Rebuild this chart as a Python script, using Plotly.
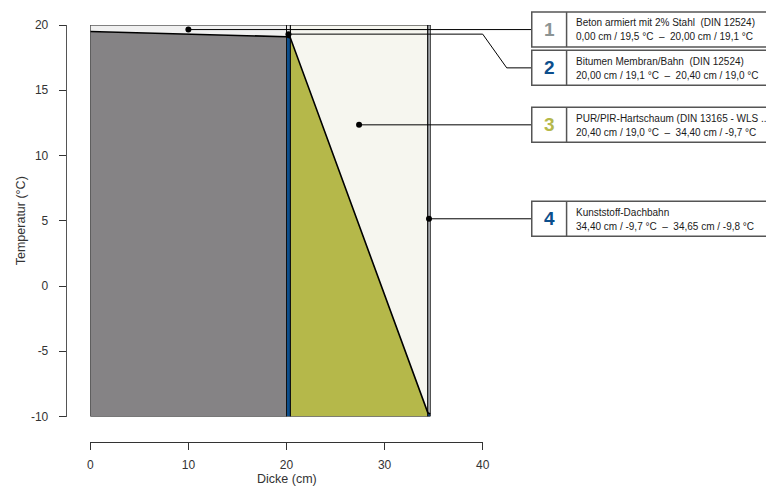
import plotly.graph_objects as go

# ---------------- data ----------------
layer_names = [
    "Beton armiert mit 2% Stahl  (DIN 12524)",
    "Bitumen Membran/Bahn  (DIN 12524)",
    "PUR/PIR-Hartschaum (DIN 13165 - WLS ...",
    "Kunststoff-Dachbahn",
]
layer_numbers = ["1", "2", "3", "4"]
layer_start = [0.00, 20.00, 20.40, 34.40]      # cm
layer_end = [20.00, 20.40, 34.40, 34.65]       # cm
temp_start = [19.5, 19.1, 19.0, -9.7]          # °C
temp_end = [19.1, 19.0, -9.7, -9.8]            # °C
marker_temp = [19.65, 19.3, 12.35, 5.15]
x_ticks = [0, 10, 20, 30, 40]
y_ticks = [-10, -5, 0, 5, 10, 15, 20]
T_MIN, T_MAX = -10, 20
X_MIN, X_MAX = 0, 40

# ---------------- styles ----------------
fill_below = ["#858385", "#0c4e8c", "#b5b84a", "#0c4e8c"]
fill_above = ["#f0f0f0", "#eaeaea", "#f6f6ef", "#dde1e6"]
number_colors = ["#8c9494", "#0c4e8c", "#b5b84a", "#0c4e8c"]
FONT = "Liberation Sans, Arial, sans-serif"

# page body has an 8px margin -> figure is drawn 8px in from the window corner
OFF = 8
W, H = 774 - OFF, 486 - OFF


def fx(px):
    return (px - OFF) / W


def fy(py):
    return 1 - (py - OFF) / H


PX0, PX1 = 90.3 - OFF, 482.7 - OFF       # figure pixel of x=0 and x=40
PY_TOP, PY_BOT = 25.0 - OFF, 416.5 - OFF  # figure pixel of T=20 and T=-10
kx = (PX1 - PX0) / (X_MAX - X_MIN)
ky = (PY_BOT - PY_TOP) / (T_MAX - T_MIN)

x2_range = [X_MIN - PX0 / kx, X_MIN + (W - PX0) / kx]
y2_range = [T_MIN - (H - PY_BOT) / ky, T_MAX + PY_TOP / ky]

fig = go.Figure()

# layer fills
for i in range(len(layer_names)):
    s, e, ts, te = layer_start[i], layer_end[i], temp_start[i], temp_end[i]
    fig.add_trace(go.Scatter(x=[s, e, e, s, s], y=[T_MIN, T_MIN, te, ts, T_MIN],
                             fill="toself", fillcolor=fill_below[i], mode="lines",
                             line=dict(width=0), hoverinfo="skip"))
    fig.add_trace(go.Scatter(x=[s, e, e, s, s], y=[ts, te, T_MAX, T_MAX, ts],
                             fill="toself", fillcolor=fill_above[i], mode="lines",
                             line=dict(width=0), hoverinfo="skip"))
# layer outlines
for i in range(len(layer_names)):
    s, e = layer_start[i], layer_end[i]
    fig.add_trace(go.Scatter(x=[s, e, e, s, s], y=[T_MIN, T_MIN, T_MAX, T_MAX, T_MIN],
                             mode="lines", line=dict(color="#111111", width=1),
                             hoverinfo="skip"))
# temperature curve
tx = layer_start + [layer_end[-1]]
ty = temp_start + [temp_end[-1]]
fig.add_trace(go.Scatter(x=tx, y=ty, mode="lines",
                         line=dict(color="#000000", width=1.6), hoverinfo="skip"))

# label boxes, leader lines, markers (overlay axes spanning the whole figure)
BOX_H = 35.0 / ky
GAP = 3.3 / ky
BOX_X0, BOX_XDIV, BOX_X1 = 45.0, 48.55, 75.0
ELBOW_X, ELBOW_X2 = 40.0, 42.45
TEXT_X = 49.3

centers = []
prev_bottom = None
for i in range(len(layer_names)):
    c = marker_temp[i]
    if prev_bottom is not None and c + BOX_H / 2 > prev_bottom - GAP:
        c = prev_bottom - GAP - BOX_H / 2
    centers.append(c)
    prev_bottom = c - BOX_H / 2

shapes = []
annotations = []
for i in range(len(layer_names)):
    xm = (layer_start[i] + layer_end[i]) / 2
    ym = marker_temp[i]
    c = centers[i]
    fig.add_trace(go.Scatter(x=[xm, ELBOW_X, ELBOW_X2, BOX_X0], y=[ym, ym, c, c],
                             mode="lines", line=dict(color="#000000", width=1),
                             xaxis="x2", yaxis="y2", hoverinfo="skip"))
    fig.add_trace(go.Scatter(x=[xm], y=[ym], mode="markers",
                             marker=dict(color="#000000", size=6),
                             xaxis="x2", yaxis="y2", hoverinfo="skip"))
    shapes.append(dict(type="rect", xref="x2", yref="y2", x0=BOX_X0, x1=BOX_X1,
                       y0=c - BOX_H / 2, y1=c + BOX_H / 2, fillcolor="#ffffff",
                       line=dict(color="#555555", width=1.5), layer="above"))
    shapes.append(dict(type="line", xref="x2", yref="y2", x0=BOX_XDIV, x1=BOX_XDIV,
                       y0=c - BOX_H / 2, y1=c + BOX_H / 2,
                       line=dict(color="#555555", width=1.5), layer="above"))
    annotations.append(dict(xref="x2", yref="y2", x=(BOX_X0 + BOX_XDIV) / 2, y=c,
                            text="<b>%s</b>" % layer_numbers[i], showarrow=False,
                            xanchor="center", yanchor="middle",
                            font=dict(family=FONT, size=19, color=number_colors[i])))
    annotations.append(dict(xref="x2", yref="y2", x=TEXT_X, y=c + 6.6 / ky,
                            text=layer_names[i], showarrow=False,
                            xanchor="left", yanchor="middle",
                            font=dict(family=FONT, size=10, color="#1a1a1a")))
    sub = "%s cm / %s °C  –  %s cm / %s °C" % (
        ("%.2f" % layer_start[i]).replace(".", ","),
        ("%.1f" % temp_start[i]).replace(".", ","),
        ("%.2f" % layer_end[i]).replace(".", ","),
        ("%.1f" % temp_end[i]).replace(".", ","))
    annotations.append(dict(xref="x2", yref="y2", x=TEXT_X, y=c - 7.4 / ky,
                            text=sub, showarrow=False,
                            xanchor="left", yanchor="middle",
                            font=dict(family=FONT, size=10, color="#1a1a1a")))

# axis titles
annotations.append(dict(xref="x", yref="paper", x=(X_MIN + X_MAX) / 2, y=fy(479.0),
                        text="Dicke (cm)", showarrow=False, xanchor="center",
                        yanchor="middle", font=dict(family=FONT, size=12.5, color="#333333")))
annotations.append(dict(xref="paper", yref="y", x=fx(20.5), y=(T_MIN + T_MAX) / 2,
                        text="Temperatur (°C)", showarrow=False, textangle=-90,
                        xanchor="center", yanchor="middle",
                        font=dict(family=FONT, size=12.5, color="#333333")))

fig.update_layout(
    width=W, height=H,
    margin=dict(l=0, r=0, t=0, b=0, autoexpand=False),
    paper_bgcolor="#ffffff", plot_bgcolor="rgba(0,0,0,0)",
    showlegend=False,
    xaxis=dict(domain=[PX0 / W, PX1 / W], range=[X_MIN, X_MAX], tickvals=x_ticks,
               ticktext=[str(v) for v in x_ticks], automargin=False,
               ticks="outside", ticklen=7, tickcolor="#333333", showline=True,
               linecolor="#333333", linewidth=1, showgrid=False, zeroline=False,
               anchor="free", position=fy(441.7), ticklabelstandoff=5,
               tickfont=dict(family=FONT, size=12, color="#333333")),
    yaxis=dict(domain=[1 - PY_BOT / H, 1 - PY_TOP / H], range=[T_MIN, T_MAX],
               tickvals=y_ticks, ticktext=[str(v) for v in y_ticks], automargin=False,
               ticks="outside", ticklen=7, tickcolor="#333333",
               showline=True, linecolor="#555555", linewidth=1, showgrid=False,
               zeroline=False, anchor="free", position=fx(65.7), ticklabelstandoff=8,
               tickfont=dict(family=FONT, size=12, color="#333333")),
    xaxis2=dict(domain=[0, 1], range=x2_range, visible=False, anchor="y2",
                automargin=False),
    yaxis2=dict(domain=[0, 1], range=y2_range, visible=False, anchor="x2",
                automargin=False),
    shapes=shapes,
    annotations=annotations,
)

fig.write_html("out.html")
